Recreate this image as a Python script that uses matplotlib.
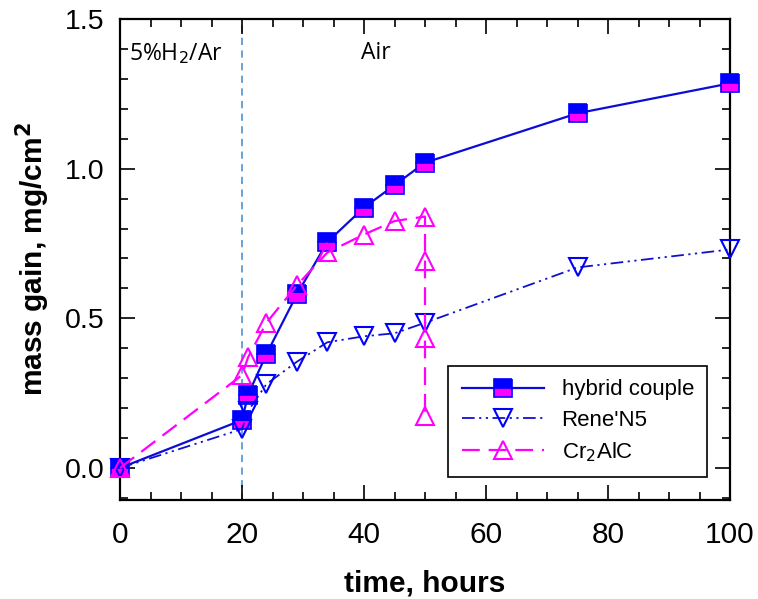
import matplotlib.pyplot as plt
from matplotlib.ticker import MultipleLocator

# oxidation data: time in hours, mass gain in mg/cm^2
t_hybrid = [0, 20, 21, 24, 29, 34, 40, 45, 50, 75, 100]
gain_hybrid = [0.0, 0.16, 0.245, 0.38, 0.58, 0.755, 0.87, 0.945, 1.02, 1.185, 1.285]

t_rene = [0, 20, 21, 24, 29, 34, 40, 45, 50, 75, 100]
gain_rene = [0.0, 0.13, 0.19, 0.28, 0.355, 0.42, 0.44, 0.45, 0.485, 0.67, 0.73]

t_cr2alc = [0, 20, 21, 24, 29, 34, 40, 45, 50, 50, 50, 50]
gain_cr2alc = [0.0, 0.31, 0.37, 0.485, 0.61, 0.72, 0.78, 0.825, 0.84, 0.69, 0.435, 0.175]

switch_time = 20

plt.rcParams['font.family'] = ['Liberation Sans', 'DejaVu Sans']

fig = plt.figure(figsize=(7.58, 5.99), dpi=100)
ax = fig.add_axes([120 / 758, 1 - 500 / 599, 610 / 758, 481 / 599])

blue = '#0000ff'
magenta = '#ff00ff'

ax.axvline(switch_time, color='#5b9bd5', linestyle=(0, (4, 3)), linewidth=1.3, zorder=1)

ax.plot(t_hybrid, gain_hybrid, color='#0c0cd8', linewidth=1.6, marker='s',
        markersize=13, fillstyle='top', markerfacecolor=blue,
        markerfacecoloralt=magenta, markeredgecolor=blue, markeredgewidth=1.2,
        label='hybrid couple', zorder=3, clip_on=False)
ax.plot(t_rene, gain_rene, color='#1010d0', linewidth=1.3,
        linestyle=(0, (7, 2.5, 1.2, 2.5, 1.2, 2.5)), marker='v', markersize=13,
        markerfacecolor='none', markeredgecolor=blue, markeredgewidth=1.5,
        label="Rene'N5", zorder=4, clip_on=False)
ax.plot(t_cr2alc, gain_cr2alc, color=magenta, linewidth=1.6,
        linestyle=(0, (8, 4)), marker='^', markersize=13,
        markerfacecolor='none', markeredgecolor=magenta, markeredgewidth=1.5,
        label='Cr$_2$AlC', zorder=5, clip_on=False)

ax.text(1.5, 1.385, '5%H$_2$/Ar', fontsize=16.5, family='Open Sans', va='center')
ax.text(39.5, 1.385, 'Air', fontsize=16.5, family='Open Sans', va='center')

ax.set_xlim(0, 100)
ax.set_ylim(-0.107, 1.5)
ax.xaxis.set_major_locator(MultipleLocator(20))
ax.xaxis.set_minor_locator(MultipleLocator(5))
ax.yaxis.set_major_locator(MultipleLocator(0.5))
ax.yaxis.set_minor_locator(MultipleLocator(0.1))
ax.yaxis.set_major_formatter(plt.FormatStrFormatter('%.1f'))

ax.tick_params(which='both', direction='in', top=True, right=True, width=1.2)
ax.tick_params(which='major', length=11)
ax.tick_params(which='minor', length=6)
ax.tick_params(axis='x', which='major', labelsize=21.5, pad=15)
ax.tick_params(axis='y', which='major', labelsize=20.5, pad=11)
for sp in ax.spines.values():
    sp.set_linewidth(1.6)

ax.set_xlabel('time, hours', fontsize=21.5, fontweight='bold', labelpad=15)
ax.set_ylabel('mass gain, mg/cm$^\\mathbf{2}$', fontsize=21.5, fontweight='bold', labelpad=9)

leg = ax.legend(loc='lower left', bbox_to_anchor=(0.538, 0.048), borderaxespad=0,
                fontsize=16, numpoints=1, handlelength=3.7, fancybox=False,
                edgecolor='black', framealpha=1, borderpad=0.6, labelspacing=0.42)
leg.get_frame().set_linewidth(1.2)

fig.savefig('out.png', dpi=100)
